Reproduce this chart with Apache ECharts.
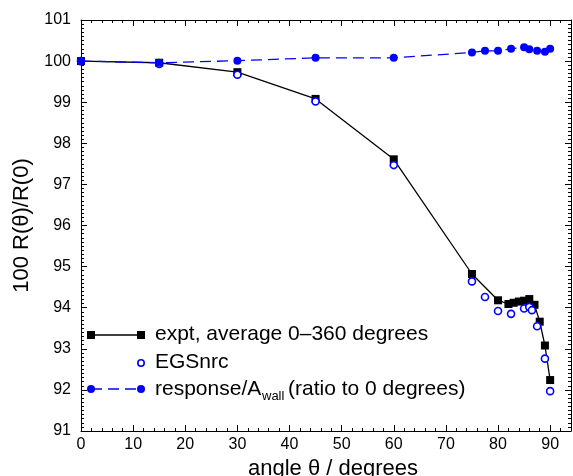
<!DOCTYPE html>
<html>
<head>
<meta charset="utf-8">
<script src="https://cdn.jsdelivr.net/npm/echarts@6/dist/echarts.min.js"></script>
<style>
  html, body { margin: 0; padding: 0; background: #fff; }
  #chart { width: 573px; height: 476px; }
</style>
</head>
<body>
<div id="chart"></div>
<script>
// angle (degrees) and 100 R(theta)/R(0)
var exptAngle = [0, 15, 30, 45, 60, 75, 80, 82, 83, 84, 85, 86, 87, 88, 89, 90];
var exptValue = [100.0, 99.96, 99.73, 99.08, 97.61, 94.82, 94.18, 94.09, 94.12, 94.15, 94.17, 94.21, 94.07, 93.66, 93.08, 92.24];

var egsAngle = [0, 15, 30, 45, 60, 75, 77.5, 80, 82.5, 85, 86, 86.5, 87.5, 89, 90];
var egsValue = [100.0, 99.93, 99.67, 99.02, 97.47, 94.64, 94.26, 93.92, 93.85, 93.98, 94.02, 93.94, 93.55, 92.76, 91.97];

var respAngle = [0, 15, 30, 45, 60, 75, 77.5, 80, 82.5, 85, 86, 87.5, 89, 90];
var respValue = [100.0, 99.96, 100.01, 100.08, 100.08, 100.21, 100.25, 100.25, 100.30, 100.34, 100.29, 100.25, 100.23, 100.30];

var xTicks = [0, 10, 20, 30, 40, 50, 60, 70, 80, 90];

function pairs(a, b) {
  var out = [];
  for (var i = 0; i < a.length; i++) out.push([a[i], b[i]]);
  return out;
}

var font = 'Liberation Sans, Arial, sans-serif';
var blue = '#0000ff';

var chart = echarts.init(document.getElementById('chart'));

var tickStyle = { show: true, inside: true, length: 6, lineStyle: { color: '#000', width: 1 } };
var minorStyle = { show: true, length: 3, lineStyle: { color: '#000', width: 1 } };

var option = {
  backgroundColor: '#fff',
  animation: false,
  grid: { left: 81, top: 20, right: 2, bottom: 45, containLabel: false, outerBoundsMode: 'none' },
  xAxis: [{
    type: 'value', min: 0, max: 94, interval: 10, position: 'bottom',
    axisLine: { show: true, onZero: false, lineStyle: { color: '#000', width: 1 } },
    axisTick: tickStyle,
    minorTick: Object.assign({ splitNumber: 5 }, minorStyle),
    splitLine: { show: false },
    axisLabel: {
      color: '#000', fontSize: 16, fontFamily: font, margin: 6,
      formatter: function (v) { return xTicks.indexOf(v) >= 0 ? String(v) : ''; }
    },
    name: 'angle \u03b8 / degrees', nameLocation: 'middle', nameGap: 22,
    nameTextStyle: { color: '#000', fontSize: 22, fontFamily: font, padding: [0, 0, 0, 14] }
  }, {
    type: 'value', min: 0, max: 94, interval: 10, position: 'top',
    axisLine: { show: true, onZero: false, lineStyle: { color: '#000', width: 1 } },
    axisTick: tickStyle,
    minorTick: Object.assign({ splitNumber: 5 }, minorStyle),
    splitLine: { show: false },
    axisLabel: { show: false }
  }],
  yAxis: [{
    type: 'value', min: 91, max: 101, interval: 1, position: 'left',
    axisLine: { show: true, onZero: false, lineStyle: { color: '#000', width: 1 } },
    axisTick: tickStyle,
    minorTick: Object.assign({ splitNumber: 10 }, minorStyle),
    splitLine: { show: false },
    axisLabel: { color: '#000', fontSize: 16, fontFamily: font, margin: 10 },
    name: '100 R(\u03b8)/R(0)', nameLocation: 'middle', nameGap: 47,
    nameTextStyle: { color: '#000', fontSize: 22, fontFamily: font }
  }, {
    type: 'value', min: 91, max: 101, interval: 1, position: 'right',
    axisLine: { show: true, onZero: false, lineStyle: { color: '#000', width: 1 } },
    axisTick: tickStyle,
    minorTick: Object.assign({ splitNumber: 10 }, minorStyle),
    splitLine: { show: false },
    axisLabel: { show: false }
  }],
  series: [{
    name: 'expt',
    type: 'line',
    data: pairs(exptAngle, exptValue),
    symbol: 'rect', symbolSize: 8, showAllSymbol: true,
    itemStyle: { color: '#000' },
    lineStyle: { color: '#000', width: 1.3 },
    z: 2
  }, {
    name: 'EGSnrc',
    type: 'scatter',
    data: pairs(egsAngle, egsValue),
    symbol: 'circle', symbolSize: 7,
    itemStyle: { color: '#fff', borderColor: blue, borderWidth: 1.6, opacity: 1 },
    z: 3
  }, {
    name: 'response',
    type: 'line',
    data: pairs(respAngle, respValue),
    symbol: 'circle', symbolSize: 8, showAllSymbol: true,
    itemStyle: { color: blue },
    lineStyle: { color: blue, width: 1.3, type: [11, 6] },
    z: 4
  }],
  graphic: [
    // legend: expt
    { type: 'line', shape: { x1: 91, y1: 335, x2: 141, y2: 335 }, style: { stroke: '#000', lineWidth: 1.3 }, z: 10 },
    { type: 'rect', shape: { x: 87, y: 331, width: 8, height: 8 }, style: { fill: '#000' }, z: 10 },
    { type: 'rect', shape: { x: 137, y: 331, width: 8, height: 8 }, style: { fill: '#000' }, z: 10 },
    { type: 'text', left: 155, top: 324, style: { text: 'expt, average 0\u2013360 degrees', fontSize: 21, fontFamily: font, fill: '#000' }, z: 10 },
    // legend: EGSnrc
    { type: 'circle', shape: { cx: 141, cy: 363, r: 3.2 }, style: { fill: '#fff', stroke: blue, lineWidth: 1.6 }, z: 10 },
    { type: 'text', left: 155, top: 352, style: { text: 'EGSnrc', fontSize: 21, fontFamily: font, fill: '#000' }, z: 10 },
    // legend: response
    { type: 'line', shape: { x1: 91, y1: 389, x2: 141, y2: 389 }, style: { stroke: blue, lineWidth: 1.3, lineDash: [11, 6] }, z: 10 },
    { type: 'circle', shape: { cx: 91, cy: 389, r: 4 }, style: { fill: blue }, z: 10 },
    { type: 'circle', shape: { cx: 141, cy: 389, r: 4 }, style: { fill: blue }, z: 10 },
    { type: 'text', left: 155, top: 379, style: { text: 'response/A', fontSize: 21, fontFamily: font, fill: '#000' }, z: 10 },
    { type: 'text', left: 262, top: 390, style: { text: 'wall', fontSize: 13, fontFamily: font, fill: '#000' }, z: 10 },
    { type: 'text', left: 288, top: 379, style: { text: '(ratio to 0 degrees)', fontSize: 21, fontFamily: font, fill: '#000' }, z: 10 }
  ]
};

chart.setOption(option);
</script>
</body>
</html>
